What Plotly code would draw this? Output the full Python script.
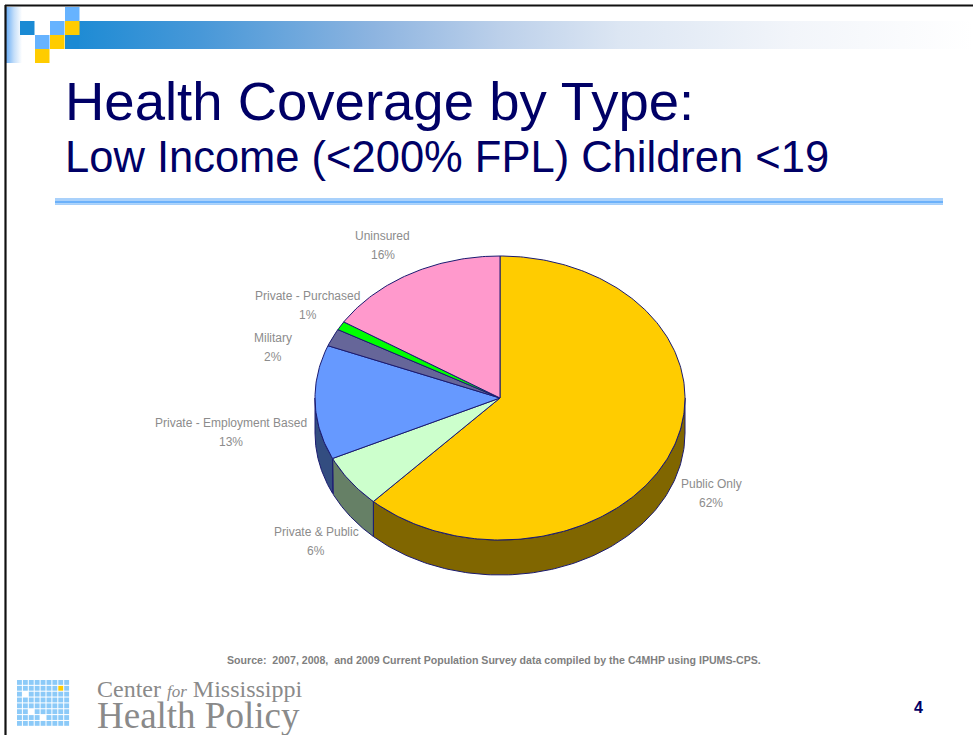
import numpy as np
import plotly.graph_objects as go

# ---------------- data ----------------
categories = ["Public Only", "Private & Public", "Private - Employment Based",
              "Military", "Private - Purchased", "Uninsured"]
values = [62, 6, 13, 2, 1, 16]

title = "Health Coverage by Type:"
subtitle = "Low Income (&lt;200% FPL) Children &lt;19"
source = ("Source:  2007, 2008,  and 2009 Current Population Survey data "
          "compiled by the C4MHP using IPUMS-CPS.")
page_number = "4"

# ---------------- styles ----------------
top_colors = ["#ffcc00", "#ccffcc", "#6699ff", "#666699", "#00ff00", "#ff99cc"]
side_colors = ["#806600", "#668066", "#334d80", "#33334d", "#008000", "#804d66"]
label_nudge = [(22, 3), (-19, 17), (-66, -5), (-43, 16), (-17, -13), (-19, -16)]
EDGE = "#1a1a70"
LABEL_GRAY = "#8c8c8c"
NAVY = "#000066"

W, H = 973, 735
CX, CY, RX, RY, DEPTH = 500, 398, 185, 142, 35

fig = go.Figure()


def ell(t):
    return CX + RX * np.sin(t), CY - RY * np.cos(t)


total = float(sum(values))
bounds = np.concatenate([[0.0], np.cumsum(values)]) / total * 2 * np.pi

# ---- decorative header ----
fig.add_trace(go.Scatter(
    x=[65, 973, 973, 65, 65], y=[21, 21, 49, 49, 21], mode="lines",
    fill="toself", line=dict(width=0), hoverinfo="skip", showlegend=False,
    fillgradient=dict(type="horizontal", colorscale=[
        [0, "#1a8ad4"], [0.15, "#4898d8"], [0.34, "#8db4e0"],
        [0.48, "#bcd0ea"], [0.61, "#dce6f3"], [0.8, "#f2f5fa"], [1, "#ffffff"]])))
fig.add_trace(go.Scatter(
    x=[6, 22, 22, 6, 6], y=[7, 7, 63, 63, 7], mode="lines",
    fill="toself", line=dict(width=0), hoverinfo="skip", showlegend=False,
    fillgradient=dict(type="horizontal", colorscale=[
        [0, "#6aaef6"], [0.5, "#c4def9"], [1, "#ffffff"]])))

shapes = []
squares = [  # (x0, y0, color)
    (65, 7, "#66b3ff"), (20, 21, "#1a8ad4"), (50, 21, "#66b3ff"), (65, 21, "#ffcc00"),
    (35, 35, "#66b3ff"), (50, 35, "#ffcc00"), (65, 35, "#1a8ad4"), (35, 49, "#ffcc00"),
]
for x0, y0, c in squares:
    shapes.append(dict(type="rect", xref="x", yref="y", x0=x0, x1=x0 + 14.5,
                       y0=y0, y1=y0 + 14, fillcolor=c, line=dict(width=0), layer="above"))

# slide border
shapes.append(dict(type="line", xref="x", yref="y", x0=5, x1=973, y0=5.5, y1=5.5,
                   line=dict(color="#111111", width=2.2)))
shapes.append(dict(type="line", xref="x", yref="y", x0=5.5, x1=5.5, y0=5, y1=735,
                   line=dict(color="#111111", width=2.2)))

# double line under title
shapes.append(dict(type="rect", xref="x", yref="y", x0=55, x1=943, y0=198, y1=201,
                   fillcolor="#a9d1fb", line=dict(width=0)))
shapes.append(dict(type="rect", xref="x", yref="y", x0=55, x1=943, y0=201, y1=203.5,
                   fillcolor="#6cb1fa", line=dict(width=0)))
shapes.append(dict(type="rect", xref="x", yref="y", x0=55, x1=943, y0=203.5, y1=205,
                   fillcolor="#a6cffa", line=dict(width=0)))

# logo grid
gx0, gy0, pitch_x, pitch_y = 17, 680, 5.9, 5.85
specials = {(7, 1): "#ffcc00", (1, 2): "#ffffff", (2, 5): "#ffffff", (4, 6): "#ffffff"}
for r in range(8):
    for c in range(9):
        col = specials.get((c, r), "#8ccaf8")
        shapes.append(dict(type="rect", xref="x", yref="y",
                           x0=gx0 + c * pitch_x, x1=gx0 + c * pitch_x + pitch_x - 1,
                           y0=gy0 + r * pitch_y, y1=gy0 + r * pitch_y + pitch_y - 1,
                           fillcolor=col, line=dict(width=0)))

# ---- 3D pie: side walls ----
for i, v in enumerate(values):
    a0, a1 = bounds[i], bounds[i + 1]
    lo, hi = max(a0, np.pi / 2), min(a1, 3 * np.pi / 2)
    if hi <= lo:
        continue
    t = np.linspace(lo, hi, 120)
    x, y = ell(t)
    px = np.concatenate([x, x[::-1], x[:1]])
    py = np.concatenate([y, (y + DEPTH)[::-1], y[:1]])
    fig.add_trace(go.Scatter(x=px, y=py, mode="lines", fill="toself",
                             fillcolor=side_colors[i], line=dict(color=EDGE, width=1),
                             hoverinfo="skip", showlegend=False))

# ---- 3D pie: top faces ----
for i, v in enumerate(values):
    a0, a1 = bounds[i], bounds[i + 1]
    t = np.linspace(a0, a1, max(8, int(400 * v / total)))
    x, y = ell(t)
    px = np.concatenate([[CX], x, [CX]])
    py = np.concatenate([[CY], y, [CY]])
    fig.add_trace(go.Scatter(x=px, y=py, mode="lines", fill="toself",
                             fillcolor=top_colors[i], line=dict(color=EDGE, width=1),
                             name=categories[i], hoverinfo="name", showlegend=False))

# ---- labels ----
annotations = []
for i, (name, v) in enumerate(zip(categories, values)):
    tm = (bounds[i] + bounds[i + 1]) / 2
    ax = CX + RX * 1.1 * np.sin(tm)
    ay = CY - RY * 1.1 * np.cos(tm) + (DEPTH if np.cos(tm) < 0 else 0)
    lx, ly = ax + label_nudge[i][0], ay + label_nudge[i][1]
    for txt, dy in ((name.replace("&", "&amp;"), -9.5), (f"{v}%", 9.5)):
        annotations.append(dict(x=lx, y=ly + dy, xref="x", yref="y", text=txt,
                                showarrow=False, xanchor="center", yanchor="middle",
                                font=dict(family="Liberation Sans, Arial", size=12,
                                          color=LABEL_GRAY)))

# ---- titles and footer ----
annotations += [
    dict(x=63, y=101, xref="x", yref="y", text=title, showarrow=False,
         xanchor="left", yanchor="middle",
         font=dict(family="Liberation Sans, Arial", size=54.5, color=NAVY)),
    dict(x=63, y=157, xref="x", yref="y", text=subtitle, showarrow=False,
         xanchor="left", yanchor="middle",
         font=dict(family="Liberation Sans, Arial", size=43.5, color=NAVY)),
    dict(x=494, y=660, xref="x", yref="y", text="<b>" + source + "</b>", showarrow=False,
         xanchor="center", yanchor="middle",
         font=dict(family="Liberation Sans Narrow, Arial Narrow, Liberation Sans",
                   size=10.6, color="#7f7f7f")),
    dict(x=95, y=674, xref="x", yref="y",
         text=("Center <i><span style='font-size:17px'>for</span></i> Mississippi<br>"
               "<span style='font-size:37px'>Health Policy</span>"),
         showarrow=False, xanchor="left", yanchor="top", align="left",
         font=dict(family="Liberation Serif, Times New Roman", size=24, color="#8a8a8a")),
    dict(x=918, y=707, xref="x", yref="y", text="<b>" + page_number + "</b>",
         showarrow=False, xanchor="center", yanchor="middle",
         font=dict(family="Liberation Sans, Arial", size=16, color=NAVY)),
]

fig.update_layout(
    width=W, height=H, autosize=False,
    margin=dict(l=0, r=0, t=0, b=0),
    paper_bgcolor="white", plot_bgcolor="white",
    xaxis=dict(range=[0, W], visible=False, fixedrange=True),
    yaxis=dict(range=[H, 0], visible=False, fixedrange=True),
    shapes=shapes, annotations=annotations, showlegend=False,
)

# remove the page's default 8px body margin so the figure fills the window
fig.write_html("out.html", config={"displayModeBar": False},
               post_script="document.body.style.margin='0';document.body.style.overflow='hidden';")
